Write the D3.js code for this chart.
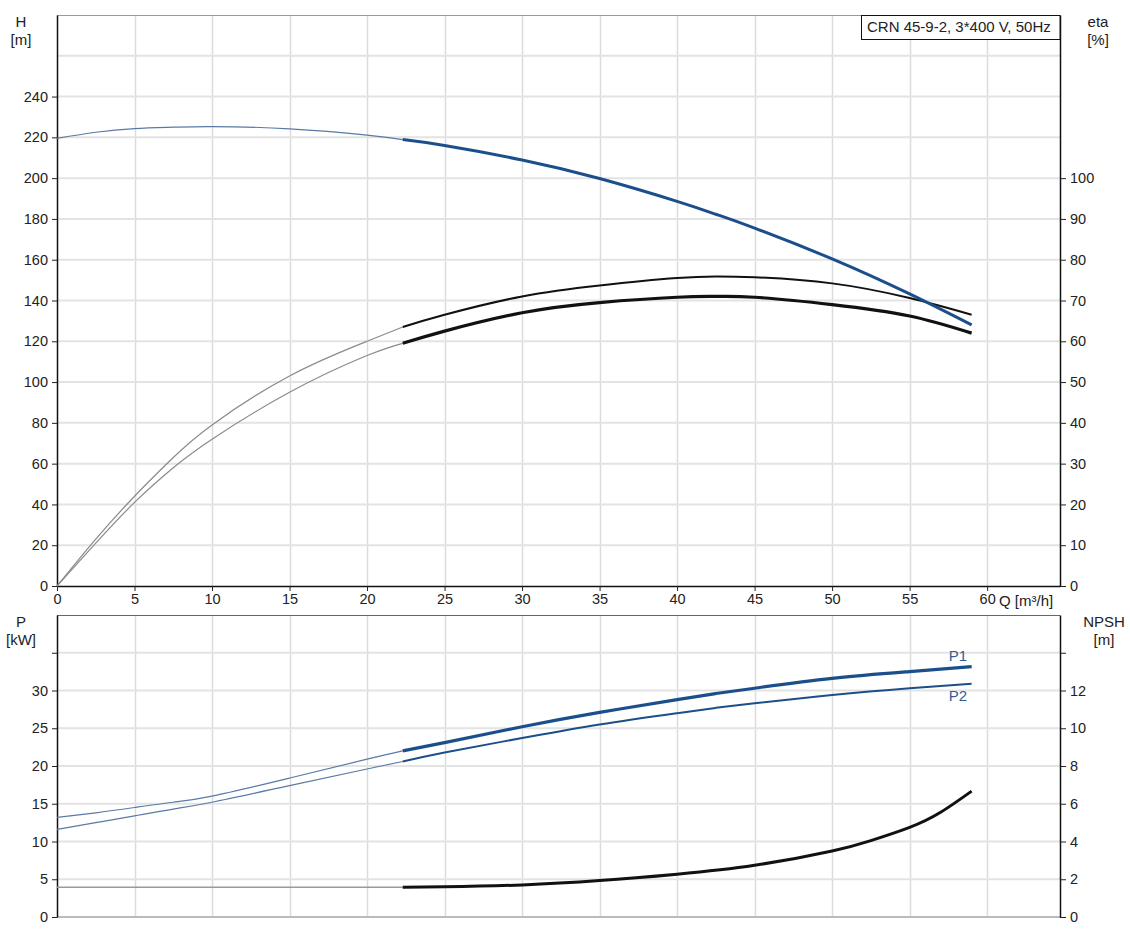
<!DOCTYPE html>
<html><head><meta charset="utf-8">
<script src="https://cdn.jsdelivr.net/npm/d3@7"></script>
<style>
html,body{margin:0;padding:0;background:#fff;}
svg text{font-family:"Liberation Sans",Arial,sans-serif;font-size:15px;fill:#222;}
</style></head>
<body><svg id="c" width="1130" height="939"></svg>
<script>
// ---- data ----
const title = "CRN 45-9-2, 3*400 V, 50Hz";
const flow      = [0, 2.5, 5, 7.5, 10, 15, 20, 22.3, 25, 30, 35, 40, 42.5, 45, 50, 55, 59];
const head      = [219.5, 222.5, 224.3, 225.0, 225.3, 224.2, 221.1, 218.9, 216.0, 208.9, 199.8, 188.6, 182.3, 175.5, 160.4, 143.2, 128.0];
const etaPump   = [0, 11.5, 22, 31.5, 39.5, 51.5, 60, 63.5, 66.5, 71, 73.7, 75.5, 75.9, 75.7, 74.2, 70.6, 66.5];
const etaTotal  = [0, 10.5, 20.5, 29, 36, 47.5, 56.5, 59.5, 62.5, 67, 69.5, 70.8, 71, 70.8, 69, 66.2, 62];
const powerP1   = [13.2, 13.8, 14.5, 15.2, 16.0, 18.4, 20.9, 22.0, 23.1, 25.2, 27.1, 28.8, 29.6, 30.3, 31.6, 32.5, 33.15];
const powerP2   = [11.6, 12.5, 13.4, 14.3, 15.2, 17.4, 19.6, 20.6, 21.8, 23.7, 25.5, 27.0, 27.7, 28.3, 29.4, 30.3, 30.9];
const npshFlow  = [0, 10, 22.3, 25, 30, 35, 40, 45, 50, 52.5, 55, 57, 59];
const npsh      = [1.58, 1.58, 1.58, 1.60, 1.70, 1.93, 2.27, 2.74, 3.5, 4.05, 4.75, 5.55, 6.67];
const dutyStart = 22.3;
const qTicks    = [0, 5, 10, 15, 20, 25, 30, 35, 40, 45, 50, 55, 60];
const hTicks    = [0, 20, 40, 60, 80, 100, 120, 140, 160, 180, 200, 220, 240];
const hGrid     = [20, 40, 60, 80, 100, 120, 140, 160, 180, 200, 220, 240, 260];
const etaTicks  = [0, 10, 20, 30, 40, 50, 60, 70, 80, 90, 100];
const pTicks    = [0, 5, 10, 15, 20, 25, 30];
const pGrid     = [5, 10, 15, 20, 25, 30, 35];
const npshTicks = [0, 2, 4, 6, 8, 10, 12];

// ---- layout ----
const svg = d3.select("#c");
const L = 57, R = 1060;
const T1 = 15, B1 = 586, T2 = 615, B2 = 917;
const blue = "#1b4f8c";

const x = d3.scaleLinear().domain([0, 64.7]).range([L, R]);
const yH = d3.scaleLinear().domain([0, 280]).range([B1, T1]);
const yEta = d3.scaleLinear().domain([0, 140]).range([B1, T1]);
const yP = d3.scaleLinear().domain([0, 40]).range([B2, T2]);
const yN = d3.scaleLinear().domain([0, 16]).range([B2, T2]);

// grids
const g = svg.append("g");
[[T1, B1], [T2, B2]].forEach(([t, b]) => {
  g.selectAll(null).data(qTicks.filter(d => d > 0)).enter().append("line")
    .attr("x1", d => Math.round(x(d)) + 0.5).attr("x2", d => Math.round(x(d)) + 0.5)
    .attr("y1", t).attr("y2", b).attr("stroke", "#dcdcdc").attr("stroke-width", 1.5);
});
g.selectAll(null).data(hGrid).enter().append("line")
  .attr("x1", L).attr("x2", R).attr("y1", d => yH(d)).attr("y2", d => yH(d))
  .attr("stroke", "#e3e3e3").attr("stroke-width", 2);
g.selectAll(null).data(pGrid).enter().append("line")
  .attr("x1", L).attr("x2", R).attr("y1", d => yP(d)).attr("y2", d => yP(d))
  .attr("stroke", "#e3e3e3").attr("stroke-width", 2);

// frames
svg.append("line").attr("x1", L).attr("x2", R).attr("y1", T1 + 0.5).attr("y2", T1 + 0.5).attr("stroke", "#999");
svg.append("line").attr("x1", L).attr("x2", R).attr("y1", T2 + 0.5).attr("y2", T2 + 0.5).attr("stroke", "#666");
svg.append("line").attr("x1", L).attr("x2", R).attr("y1", B2).attr("y2", B2).attr("stroke", "#bbb").attr("stroke-width", 2);

// axes
function styleAxis(sel) {
  sel.select(".domain").attr("stroke", "#111").attr("stroke-width", 1.5);
  sel.selectAll(".tick line").attr("stroke", "#222");
  sel.selectAll(".tick text").attr("fill", "#222").style("font-size", "14.5px");
}
svg.append("g").attr("transform", `translate(${L},0)`)
  .call(d3.axisLeft(yH).tickValues(hTicks).tickSize(5).tickPadding(4).tickSizeOuter(0)).call(styleAxis);
svg.append("g").attr("transform", `translate(${R},0)`)
  .call(d3.axisRight(yEta).tickValues(etaTicks).tickSize(6).tickPadding(4).tickSizeOuter(0)).call(styleAxis);
svg.append("g").attr("transform", `translate(0,${B1})`)
  .call(d3.axisBottom(x).tickValues(qTicks).tickSize(5).tickPadding(3).tickSizeOuter(0)).call(styleAxis);
svg.append("g").attr("transform", `translate(${L},0)`)
  .call(d3.axisLeft(yP).tickValues(pTicks.concat([35])).tickFormat(d => d === 35 ? "" : d).tickSize(5).tickPadding(4).tickSizeOuter(0)).call(styleAxis);
svg.append("g").attr("transform", `translate(${R},0)`)
  .call(d3.axisRight(yN).tickValues(npshTicks.concat([14])).tickFormat(d => d === 14 ? "" : d).tickSize(6).tickPadding(4).tickSizeOuter(0)).call(styleAxis);

// titles
function txt(s, tx, ty, anchor) {
  svg.append("text").attr("x", tx).attr("y", ty).attr("text-anchor", anchor || "middle").text(s);
}
txt("H", 21, 27); txt("[m]", 21, 45);
txt("eta", 1098, 27); txt("[%]", 1098, 45);
txt("P", 21, 627); txt("[kW]", 21, 645);
txt("NPSH", 1104, 627); txt("[m]", 1104, 645);
txt("Q [m³/h]", 999, 606, "start");

// legend box
svg.append("rect").attr("x", 861.5).attr("y", 15.5).attr("width", R - 861.5).attr("height", 24)
  .attr("fill", "#fff").attr("stroke", "#111");
txt(title, 867, 32, "start");

// curves
const rows = flow.map((q, i) => ({q, h: head[i], e1: etaPump[i], e2: etaTotal[i], p1: powerP1[i], p2: powerP2[i]}));
const nRows = npshFlow.map((q, i) => ({q, n: npsh[i]}));
function draw(data, key, yS, thinColor, thinW, thickColor, thickW) {
  const line = d3.line().x(d => x(d.q)).y(d => yS(d[key])).curve(d3.curveNatural);
  svg.append("path").datum(data.filter(d => d.q <= dutyStart)).attr("d", line).attr("fill", "none")
    .attr("stroke", thinColor).attr("stroke-width", thinW);
  svg.append("path").datum(data.filter(d => d.q >= dutyStart)).attr("d", line).attr("fill", "none")
    .attr("stroke", thickColor).attr("stroke-width", thickW).attr("stroke-linecap", "butt");
}
draw(rows, "e1", yEta, "#8a8a8a", 1.2, "#111", 2);
draw(rows, "e2", yEta, "#8a8a8a", 1.2, "#111", 3.2);
draw(rows, "h", yH, "#5a7aa5", 1.2, blue, 3);
draw(rows, "p2", yP, "#5a7aa5", 1.2, blue, 2);
draw(rows, "p1", yP, "#5a7aa5", 1.2, blue, 3.2);
draw(nRows, "n", yN, "#999", 1.5, "#111", 3);

svg.append("text").attr("x", 958).attr("y", yP(powerP1[powerP1.length - 1]) - 6).attr("text-anchor", "middle").style("fill", "#2f5d96").text("P1");
svg.append("text").attr("x", 958).attr("y", yP(powerP2[powerP2.length - 1]) + 17).attr("text-anchor", "middle").style("fill", "#2f5d96").text("P2");
</script></body></html>
